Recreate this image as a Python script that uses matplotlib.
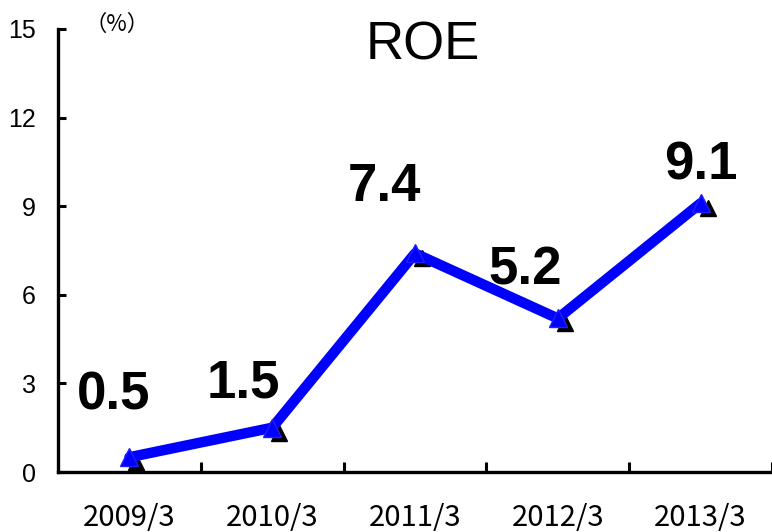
import matplotlib
matplotlib.use("Agg")
import matplotlib.pyplot as plt
import matplotlib.transforms as mtransforms

categories = ["2009/3", "2010/3", "2011/3", "2012/3", "2013/3"]
roe = [0.5, 1.5, 7.4, 5.2, 9.1]
value_labels = ["0.5", "1.5", "7.4", "5.2", "9.1"]
yticks = [0, 3, 6, 9, 12, 15]

LIB = ["Liberation Sans", "DejaVu Sans"]
JP = ["Noto Sans CJK JP", "DejaVu Sans"]

fig = plt.figure(figsize=(7.72, 5.32), dpi=100)
ax = fig.add_axes([58/772, 60/532, 1 - 58/772, (472-29)/532])

x = list(range(len(categories)))

# shadow markers
shadow = mtransforms.offset_copy(ax.transData, fig=fig, x=7, y=-5, units='dots')
ax.plot(x, roe, linestyle='none', marker='^', markersize=12, color='black',
        transform=shadow, zorder=2, clip_on=False)
ax.plot(x, roe, color='#0000FF', linewidth=7.5, marker='^', markersize=13,
        markeredgecolor='#2020FF', zorder=3, clip_on=False, solid_capstyle='round')

# value labels
offsets = [(-16, 62), (-29, 44), (-31, 66), (-33, 48), (0, 38)]
for xi, v, lab, off in zip(x, roe, value_labels, offsets):
    ax.annotate(lab, (xi, v), xytext=off, textcoords='offset pixels',
                ha='center', va='center', fontsize=38, fontweight='bold',
                family=LIB, color='black')

ax.set_xlim(-0.5, len(categories) - 0.5)
ax.set_ylim(0, 15)
ax.set_yticks(yticks)
ax.set_yticklabels([str(t) for t in yticks], family=LIB, fontsize=18)
ax.set_xticks(x)
ax.set_xticklabels(categories, family=JP, fontsize=21)
ax.set_xticks([i + 0.5 for i in x], minor=True)

for s in ['top', 'right']:
    ax.spines[s].set_visible(False)
for s in ['left', 'bottom']:
    ax.spines[s].set_linewidth(2.4)
    ax.spines[s].set_color('black')

ax.tick_params(axis='x', which='major', length=0, pad=22)
ax.tick_params(axis='x', which='minor', direction='in', length=7, width=2.2)
ax.tick_params(axis='y', direction='in', length=6, width=2.2, pad=16)

fig.text(423/772, 1 - 60/532, "ROE", ha='center', va='baseline', fontsize=38,
         family=LIB)
fig.text(117/772, 1 - 24/532, "（%）", ha='center', va='center', fontsize=16,
         family=JP)

fig.savefig("out.png", dpi=100)
